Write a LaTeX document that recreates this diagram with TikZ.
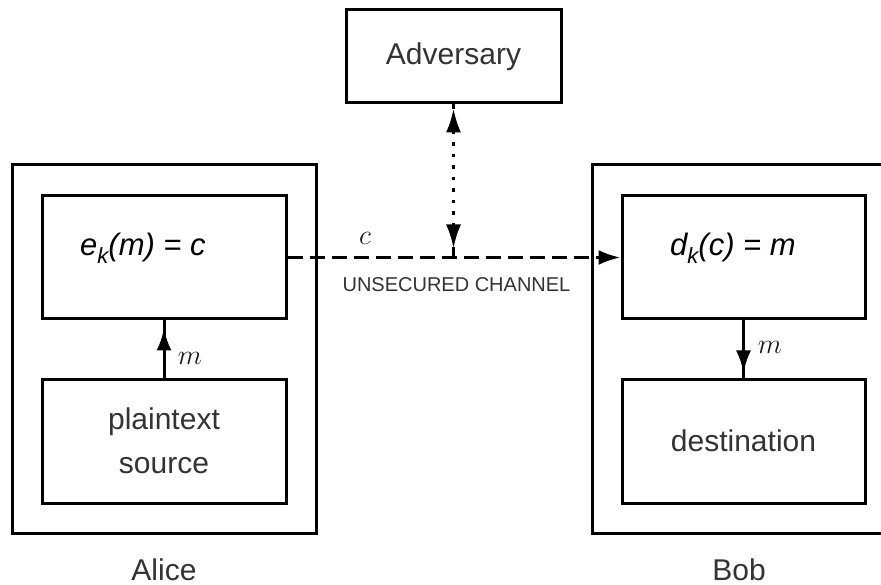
\documentclass[tikz,border=0pt]{standalone}
\usepackage{graphicx}
\usepackage{fontspec}
\setmainfont{Liberation Sans}
\usetikzlibrary{arrows.meta}
% math-italic letters, enlarged from the largest fixed size of the math font
\newcommand{\bigmath}[1]{\scalebox{1.13}{\fontsize{24.88}{30}\selectfont$#1$}}
\begin{document}
\begin{tikzpicture}[x=1pt, y=-1pt,
  box/.style={draw, line width=3pt, rectangle, inner sep=0pt},
  lbl/.style={font=\fontsize{30}{44}\selectfont, text=black!80, align=center},
  eqn/.style={font=\fontsize{31}{36}\selectfont\itshape, text=black, inner sep=0pt},
  mathlbl/.style={text=black!90, inner sep=0pt},
  chanlbl/.style={font=\fontsize{20}{24}\selectfont, text=black!80, inner sep=0pt},
  stem/.style={line width=3pt},
  tip/.style={-{Latex[length=22pt,width=15pt]}},
  channel/.style={line width=3pt, dash pattern=on 15pt off 7pt},
  dotline/.style={line width=3pt, dash pattern=on 3.5pt off 8pt},
]
\path[use as bounding box] (0,0) rectangle (881,585);
\clip (0,0) rectangle (881,585);

% outer frames of the two parties
\node[box, minimum width=304pt, minimum height=368pt] (alice) at (164,349) {};
\node[box, minimum width=304pt, minimum height=368pt] (bob) at (744,349) {};

% Alice: encryption and source
\node[box, minimum width=244pt, minimum height=123pt] (enc) at (164,257.5) {};
\node[box, lbl, minimum width=244pt, minimum height=124pt] (src) at (164,441) {plaintext\\source};
\node[eqn, anchor=base west] (enctext) at (80,256)
  {e\raisebox{-0.24em}{\fontsize{22}{22}\selectfont k}(m) = c};

% Bob: decryption and destination
\node[box, minimum width=243pt, minimum height=123pt] (dec) at (743.5,257.5) {};
\node[box, lbl, minimum width=243pt, minimum height=124pt] (dst) at (743.5,441) {destination};
\node[eqn, anchor=base west] (dectext) at (670,256)
  {d\raisebox{-0.24em}{\fontsize{22}{22}\selectfont k}(c) = m};

% adversary
\node[box, lbl, minimum width=215pt, minimum height=93pt] (adv) at (453.5,56.5) {Adversary};

% party names
\node[lbl, anchor=base] (alicename) at (164,580) {Alice};
\node[lbl, anchor=base] (bobname) at (739,580) {Bob};

% unsecured channel
\draw[channel, tip] (enc.east) -- (dec.west);
\node[mathlbl, anchor=base] (clbl) at (365,245) {\bigmath{c}};
\node[chanlbl, anchor=base] (chan) at (456.5,292) {UNSECURED CHANNEL};

% adversary taps the channel
\coordinate (tap) at (adv.south |- enc.east);
\draw[dotline, {Latex[length=24pt,width=15pt]}-{Latex[length=24pt,width=15pt]},
      shorten <=4pt, shorten >=9pt] (adv.south) -- (tap);
\draw[stem] (tap) -- ++(0,-10);
\draw[stem] (adv.south) -- ++(0,5);

% message flow inside Alice and Bob
\draw[stem] (src.north) -- (enc.south);
\draw[stem, tip, shorten >=8pt] (src.north) -- (enc.south);
\node[mathlbl] (malice) at (190,358) {\bigmath{m}};

\draw[stem] (dec.south) -- (dst.north);
\draw[stem, tip, shorten >=5pt] (dec.south) -- (dst.north);
\node[mathlbl] (mbob) at (770,347) {\bigmath{m}};
\end{tikzpicture}
\end{document}
